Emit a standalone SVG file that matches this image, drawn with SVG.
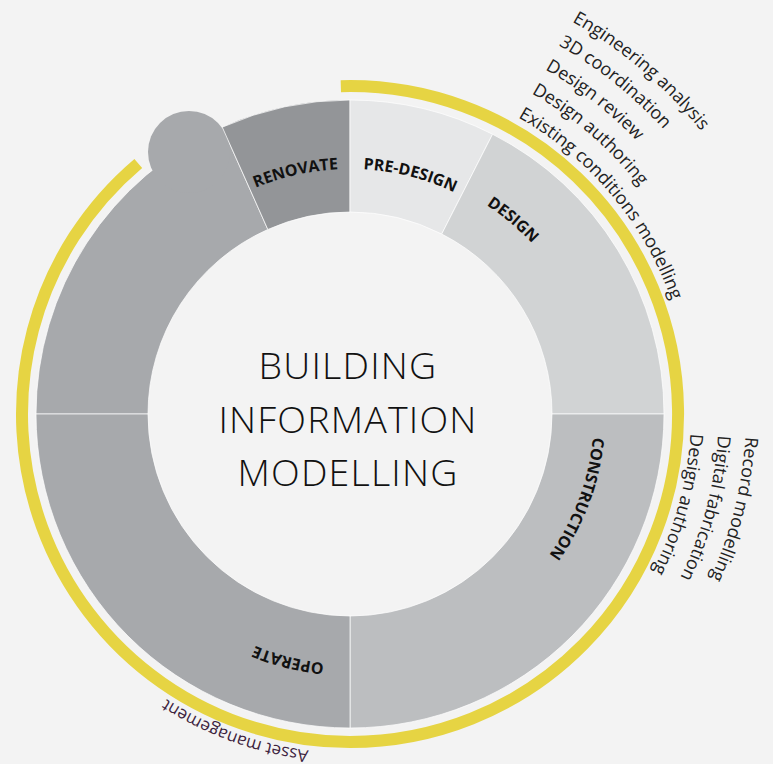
<svg xmlns="http://www.w3.org/2000/svg" width="773" height="764" viewBox="0 0 773 764">
<style>
.seg{stroke:#ffffff;stroke-opacity:0.7;stroke-width:1}
.lbl{font-family:"Open Sans","Noto Sans","Liberation Sans",sans-serif;font-weight:700;font-size:16px;fill:#111111}
.out{font-family:"Open Sans","Noto Sans","Liberation Sans",sans-serif;font-size:18px;fill:#222222}
.asset{font-family:"Open Sans","Noto Sans","Liberation Sans",sans-serif;font-size:17px;fill:#3d2340}
.title{font-family:"Open Sans","Noto Sans","Liberation Sans",sans-serif;font-weight:300;font-size:37.5px;letter-spacing:1.2px;fill:#111111}
.ring{fill:none;stroke:#e6d443;stroke-width:12;stroke-linecap:butt}
</style>
<defs>
<path id="pRen" d="M 142.80 283.27 A 245 245 0 0 1 480.92 206.91"/>
<path id="pPre" d="M 224.20 203.76 A 245 245 0 0 1 560.24 288.20"/>
<path id="pDes" d="M 328.25 165.45 A 249.5 249.5 0 0 1 598.55 392.25"/>
<path id="pCon" d="M 571.85 312.43 A 244 244 0 0 1 451.57 635.85"/>
<path id="pOpe" d="M 478.63 628.96 A 250.5 250.5 0 0 1 135.04 542.63"/>
<path id="t1" d="M 517.92 117.21 A 341 341 0 0 1 691 414"/>
<path id="t2" d="M 531.46 93.27 A 368.5 368.5 0 0 1 718.5 414"/>
<path id="t3" d="M 545.00 69.34 A 396 396 0 0 1 746 414"/>
<path id="t4" d="M 558.54 45.40 A 423.5 423.5 0 0 1 773.5 414"/>
<path id="t5" d="M 572.08 21.47 A 451 451 0 0 1 801 414"/>
<path id="r1" d="M 690.43 433.63 A 341 341 0 0 1 520.5 709.31"/>
<path id="r2" d="M 717.89 435.21 A 368.5 368.5 0 0 1 534.25 733.13"/>
<path id="r3" d="M 745.34 436.79 A 396 396 0 0 1 548 756.95"/>
<path id="b1" d="M 308.69 750.47 A 339 339 0 0 1 31.44 529.94"/>
</defs>
<rect width="773" height="764" fill="#f3f3f3"/>

<g id="connectors">
<path class="ring" d="M 340.84 86.13 A 328 328 0 1 1 350 742"/>
<path class="ring" d="M 350 742 A 328 328 0 0 1 138.29 163.47"/>
</g>

<g id="operate-upper">
<path class="seg" fill="#a7a9ac" d="M 36 414 A 314 314 0 0 1 222.28 127.15 L 267.84 229.46 A 202 202 0 0 0 148 414 Z"/>
<circle cx="189" cy="152" r="41" fill="#a7a9ac"/>
</g>
<g id="renovate">
<path class="seg" fill="#939598" d="M 222.28 127.15 A 314 314 0 0 1 350 100 L 350 212 A 202 202 0 0 0 267.84 229.46 Z"/>
<text class="lbl"><textPath href="#pRen" startOffset="50%" text-anchor="middle">RENOVATE</textPath></text>
</g>
<g id="pre-design">
<path class="seg" fill="#e6e7e8" d="M 350 100 A 314 314 0 0 1 492.55 134.22 L 441.71 234.02 A 202 202 0 0 0 350 212 Z"/>
<text class="lbl"><textPath href="#pPre" startOffset="50%" text-anchor="middle">PRE-DESIGN</textPath></text>
</g>
<g id="design">
<path class="seg" fill="#d1d3d4" d="M 492.55 134.22 A 314 314 0 0 1 664 414 L 552 414 A 202 202 0 0 0 441.71 234.02 Z"/>
<text class="lbl"><textPath href="#pDes" startOffset="50%" text-anchor="middle">DESIGN</textPath></text>
</g>
<g id="construction">
<path class="seg" fill="#bcbec0" d="M 664 414 A 314 314 0 0 1 350 728 L 350 616 A 202 202 0 0 0 552 414 Z"/>
<text class="lbl"><textPath href="#pCon" startOffset="50%" text-anchor="middle">CONSTRUCTION</textPath></text>
</g>
<g id="operate">
<path class="seg" fill="#a7a9ac" d="M 350 728 A 314 314 0 0 1 36 414 L 148 414 A 202 202 0 0 0 350 616 Z"/>
<text class="lbl"><textPath href="#pOpe" startOffset="50%" text-anchor="middle">OPERATE</textPath></text>
</g>

<g id="bim-title">
<text class="title" text-anchor="middle" x="348" y="379">BUILDING</text>
<text class="title" text-anchor="middle" x="348" y="433">INFORMATION</text>
<text class="title" text-anchor="middle" x="348" y="486">MODELLING</text>
</g>

<g id="design-uses">
<text class="out"><textPath href="#t1">Existing conditions modelling</textPath></text>
<text class="out"><textPath href="#t2">Design authoring</textPath></text>
<text class="out"><textPath href="#t3">Design review</textPath></text>
<text class="out"><textPath href="#t4">3D coordination</textPath></text>
<text class="out"><textPath href="#t5">Engineering analysis</textPath></text>
</g>
<g id="construction-uses">
<text class="out"><textPath href="#r1">Design authoring</textPath></text>
<text class="out"><textPath href="#r2">Digital fabrication</textPath></text>
<text class="out"><textPath href="#r3">Record modelling</textPath></text>
</g>
<g id="operate-uses">
<text class="asset"><textPath href="#b1">Asset management</textPath></text>
</g>
</svg>
